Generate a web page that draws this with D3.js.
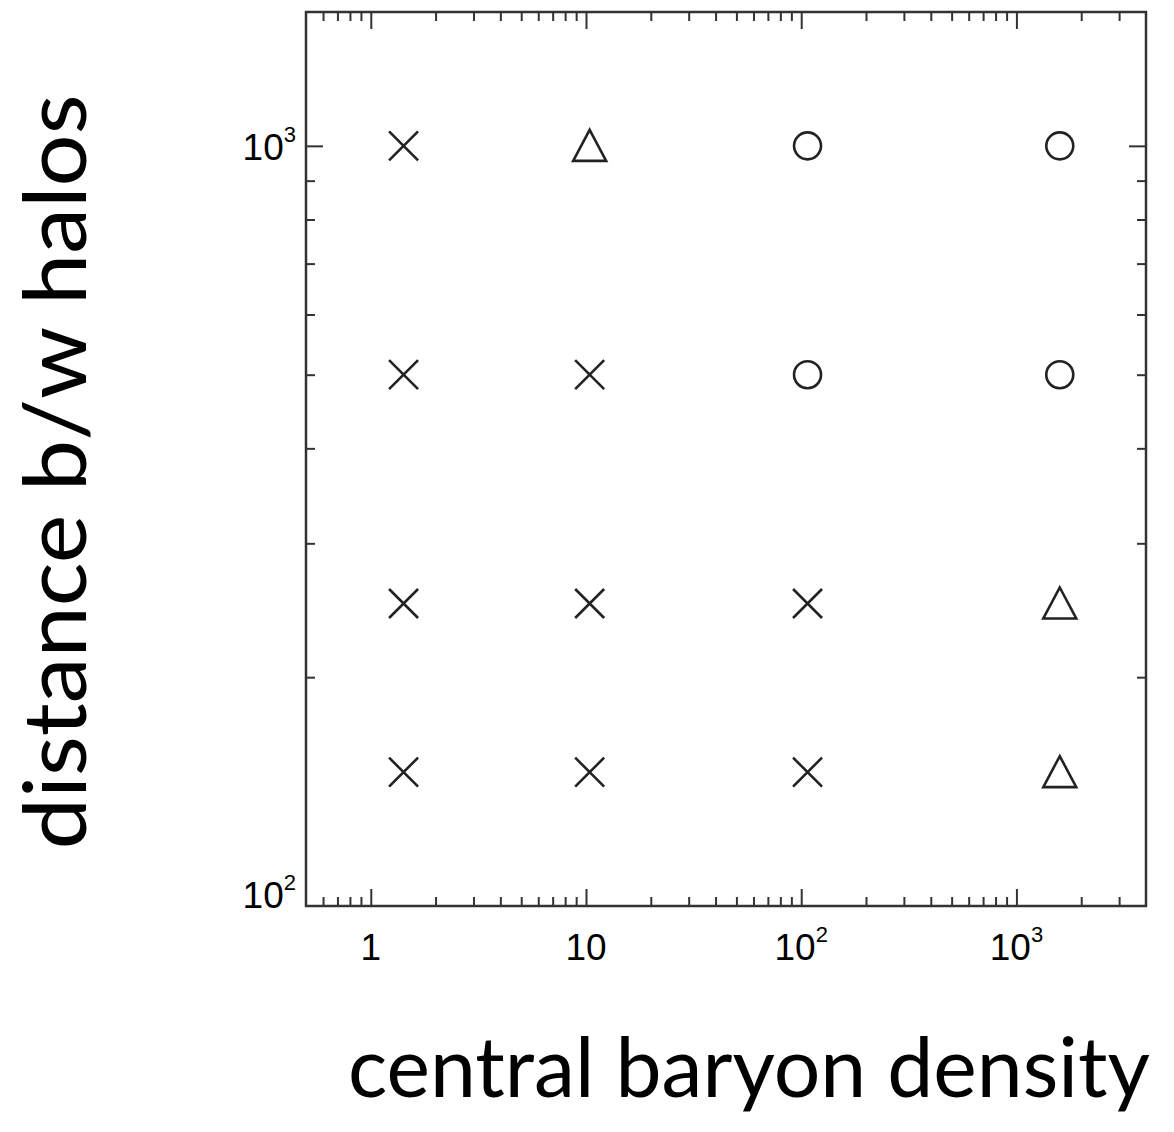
<!DOCTYPE html>
<html>
<head>
<meta charset="utf-8">
<script src="https://cdn.jsdelivr.net/npm/d3@7"></script>
<style>
  html, body { margin: 0; background: #fff; }
  svg { display: block; }
</style>
</head>
<body>
<script>
// Simulation grid: central baryon density (x) vs. distance between halos (y)
const densities = [1.42, 10.4, 107, 1590];
const distances = [1000, 500, 250, 150];
// Outcome for each (distance row, density column): "x" cross, "tri" triangle, "circ" circle
const outcomes = [
  ["x", "tri", "circ", "circ"],
  ["x", "x",   "circ", "circ"],
  ["x", "x",   "x",    "tri"],
  ["x", "x",   "x",    "tri"]
];
const xDomain = [0.5, 4000];
const yDomain = [100, 1500];
const xTickLabels = [
  { v: 1, base: "1", exp: "" },
  { v: 10, base: "10", exp: "" },
  { v: 100, base: "10", exp: "2" },
  { v: 1000, base: "10", exp: "3" }
];
const yTickLabels = [
  { v: 100, base: "10", exp: "2" },
  { v: 1000, base: "10", exp: "3" }
];
const xTitle = "central baryon density";
const yTitle = "distance b/w halos";

const W = 1174, H = 1132;
const plotL = 306, plotR = 1146, plotT = 12, plotB = 906;

const svg = d3.select("body").append("svg")
  .attr("width", W).attr("height", H);

const x = d3.scaleLog().domain(xDomain).range([plotL, plotR]);
const y = d3.scaleLog().domain(yDomain).range([plotB, plotT]);

const isMajor = v => Math.abs(Math.log10(v) - Math.round(Math.log10(v))) < 1e-9;
const xTicks = x.ticks().filter(v => v > xDomain[0] && v < xDomain[1]);
const yTicks = y.ticks().filter(v => v > yDomain[0] && v < yDomain[1]);
const xMinor = xTicks.filter(v => !isMajor(v));
const xMajor = xTicks.filter(isMajor);
const yMinor = yTicks.filter(v => !isMajor(v));
const yMajor = yTicks.filter(isMajor);

const axisColor = "#333";
const majorLen = 17, minorLen = 9;

function styleAxis(g) {
  g.select(".domain").remove();
  g.selectAll(".tick line").attr("stroke", axisColor).attr("stroke-width", 2);
  g.selectAll(".tick text").remove();
}

// inward-pointing ticks on all four sides
const axes = [
  [() => d3.axisBottom(x), `translate(0,${plotB})`, xMinor, xMajor],
  [() => d3.axisTop(x), `translate(0,${plotT})`, xMinor, xMajor],
  [() => d3.axisLeft(y), `translate(${plotL},0)`, yMinor, yMajor],
  [() => d3.axisRight(y), `translate(${plotR},0)`, yMinor, yMajor]
];
axes.forEach(([mk, tr, minor, major]) => {
  svg.append("g").attr("transform", tr)
    .call(mk().tickValues(minor).tickSize(-minorLen).tickFormat(() => ""))
    .call(styleAxis);
  svg.append("g").attr("transform", tr)
    .call(mk().tickValues(major).tickSize(-majorLen).tickFormat(() => ""))
    .call(styleAxis);
});

// frame
svg.append("rect")
  .attr("x", plotL).attr("y", plotT)
  .attr("width", plotR - plotL).attr("height", plotB - plotT)
  .attr("fill", "none").attr("stroke", axisColor).attr("stroke-width", 2.5);

// tick labels with superscript exponents
const labelFont = "'Liberation Sans', Arial, Helvetica, sans-serif";
const baseSize = 37, expSize = 22, expShift = -18;

function addLabel(g, d) {
  g.append("tspan").text(d.base);
  if (d.exp) {
    g.append("tspan").attr("font-size", expSize).attr("dy", expShift).text(d.exp);
  }
}

svg.append("g").selectAll("text").data(xTickLabels).join("text")
  .attr("x", d => x(d.v))
  .attr("y", plotB + 54)
  .attr("text-anchor", "middle")
  .attr("font-family", labelFont)
  .attr("font-size", baseSize)
  .attr("fill", "#000")
  .each(function (d) { addLabel(d3.select(this), d); });

svg.append("g").selectAll("text").data(yTickLabels).join("text")
  .attr("x", plotL - 10)
  .attr("y", d => Math.min(y(d.v) + 14, plotB + 2))
  .attr("text-anchor", "end")
  .attr("font-family", labelFont)
  .attr("font-size", baseSize)
  .attr("fill", "#000")
  .each(function (d) { addLabel(d3.select(this), d); });

// markers
const cells = [];
distances.forEach((dist, i) => {
  densities.forEach((dens, j) => {
    cells.push({ dens, dist, kind: outcomes[i][j] });
  });
});

const circlePath = d3.path();
circlePath.arc(0, 0, 13.5, 0, 2 * Math.PI);
const shapes = {
  x: (s => `M${-s},${-s}L${s},${s}M${-s},${s}L${s},${-s}`)(14.5),
  tri: "M0,-16L16.5,15L-16.5,15Z",
  circ: circlePath.toString()
};

svg.append("g").selectAll("path").data(cells).join("path")
  .attr("transform", d => `translate(${x(d.dens)},${y(d.dist)})`)
  .attr("d", d => shapes[d.kind])
  .attr("fill", "none")
  .attr("stroke", "#222")
  .attr("stroke-width", 2.6)
  .attr("stroke-linejoin", "miter");

// axis titles
const titleFont = "Lato, 'Open Sans', sans-serif";
svg.append("text")
  .attr("x", 749).attr("y", 1097)
  .attr("text-anchor", "middle")
  .attr("font-family", titleFont)
  .attr("font-size", 84)
  .attr("textLength", 802)
  .attr("lengthAdjust", "spacingAndGlyphs")
  .attr("fill", "#000")
  .text(xTitle);

svg.append("text")
  .attr("transform", "translate(86,472) rotate(-90)")
  .attr("text-anchor", "middle")
  .attr("font-family", titleFont)
  .attr("font-size", 88)
  .attr("textLength", 755)
  .attr("lengthAdjust", "spacingAndGlyphs")
  .attr("fill", "#000")
  .text(yTitle);
</script>
</body>
</html>
